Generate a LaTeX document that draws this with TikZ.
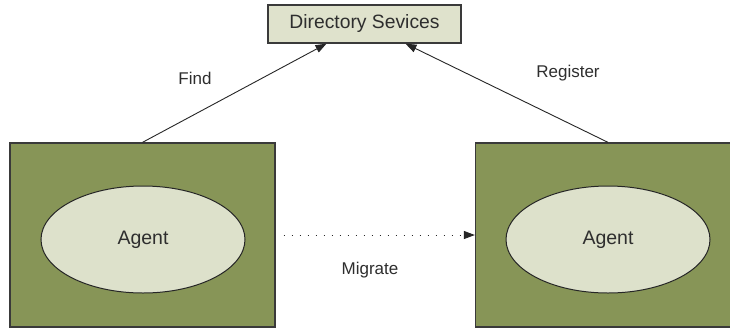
\documentclass[tikz,border=0pt]{standalone}
\usepackage{fontspec}
\setmainfont{Liberation Sans}
\usetikzlibrary{arrows.meta,shapes.geometric}

\definecolor{hostgreen}{HTML}{879557}
\definecolor{agentfill}{HTML}{DDE1CB}
\definecolor{dirfill}{HTML}{DFE2CC}
\definecolor{edgegray}{HTML}{3A3A3A}
\definecolor{textgray}{HTML}{2E2E2E}

\begin{document}
\begin{tikzpicture}[
  x=1pt, y=-1pt,
  host/.style={rectangle,draw=edgegray,line width=1.3pt,fill=hostgreen,inner sep=0pt,minimum width=265pt,minimum height=184pt},
  agent/.style={ellipse,draw=black!85,line width=1pt,fill=agentfill,inner sep=0pt,minimum width=204pt,minimum height=107pt,text=textgray,font=\fontsize{19.5}{21}\selectfont},
  dirbox/.style={rectangle,draw=edgegray,line width=1.3pt,fill=dirfill,inner sep=0pt,minimum width=193pt,minimum height=38pt,text=textgray,font=\fontsize{19.3}{21}\selectfont},
  lbl/.style={text=textgray,font=\fontsize{17}{19}\selectfont},
  link/.style={draw=black!85,line width=0.9pt,-{Triangle[length=11pt,width=8pt]}}
]
  \clip (0,0) rectangle (730,327);
  \fill[white] (0,0) rectangle (730,327);

  \node[dirbox] (dir) at (364.5,24) {Directory Sevices};
  \node[host] (hostL) at (142.5,235) {};
  \node[host] (hostR) at (608,235) {};
  \node[agent] (agentL) at (143,239.5) {Agent};
  \node[agent] (agentR) at (608,239.5) {Agent};

  \draw[link] (hostL.north) -- ([xshift=-38pt]dir.south);
  \draw[link] (hostR.north) -- ([xshift=41pt]dir.south);
  \draw[link,dash pattern=on 1pt off 7pt] ([xshift=8pt]hostL.east) -- (hostR.west);

  \node[lbl] (find) at (195,78) {Find};
  \node[lbl] (register) at (568,73) {Register};
  \node[lbl] (migrate) at (370,270) {Migrate};
\end{tikzpicture}
\end{document}
